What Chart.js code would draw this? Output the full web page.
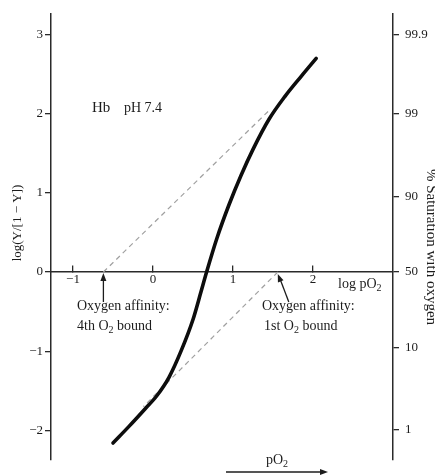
<!DOCTYPE html>
<html>
<head>
<meta charset="utf-8">
<script src="https://cdn.jsdelivr.net/npm/chart.js@4.4.1/dist/chart.umd.min.js"></script>
<style>
  html, body { margin: 0; padding: 0; background: #fff; overflow: hidden; }
  #wrap { position: relative; width: 435px; height: 475px; }
</style>
</head>
<body>
<div id="wrap"><canvas id="hillChart"></canvas></div>
<script>
// Hill plot for hemoglobin, pH 7.4
const logPO2    = [-0.50, -0.30, -0.10, 0.05, 0.20, 0.35, 0.50, 0.60, 0.67, 0.80, 0.95, 1.10, 1.25, 1.45, 1.65, 1.85, 2.04];
const logYratio = [-2.16, -1.95, -1.73, -1.56, -1.33, -1.00, -0.60, -0.25, 0, 0.43, 0.85, 1.22, 1.55, 1.93, 2.22, 2.47, 2.70];

// dashed asymptotes (slope 1)
const upperAsymX = [-0.62, 1.46];
const upperAsymY = [0, 2.05];
const lowerAsymX = [1.56, -0.12];
const lowerAsymY = [0, -1.70];

// where the asymptotes cut log(Y/[1-Y]) = 0
const affinity4th = -0.62;
const affinity1st = 1.56;

const xTicks = [-1, 0, 1, 2];
const yTicks = [-2, -1, 0, 1, 2, 3];
const satPercent = [99.9, 99, 90, 50, 10, 1];
const satLabels = ['99.9', '99', '90', '50', '10', '1'];

const serif = '"Liberation Serif", "Times New Roman", serif';
const ink = '#1c1c1c';
const axisInk = '#2a2a2a';
const dashInk = '#a0a0a0';

const fmt = v => (v < 0 ? '\u2212' + Math.abs(v) : String(v));
const pts = (xs, ys) => xs.map((v, i) => ({ x: v, y: ys[i] }));

// text with subscripts: parts = [[text, isSub], ...]
function richText(ctx, parts, x, y, size) {
  let cx = x;
  parts.forEach(([t, sub]) => {
    const s = sub ? Math.round(size * 0.7) : size;
    ctx.font = s + 'px ' + serif;
    ctx.fillText(t, cx, sub ? y + size * 0.22 : y);
    cx += ctx.measureText(t).width;
  });
}

function arrowHead(ctx, tx, ty, fx, fy, len, half) {
  const a = Math.atan2(ty - fy, tx - fx);
  ctx.beginPath();
  ctx.moveTo(tx, ty);
  ctx.lineTo(tx - len * Math.cos(a) + half * Math.sin(a), ty - len * Math.sin(a) - half * Math.cos(a));
  ctx.lineTo(tx - len * Math.cos(a) - half * Math.sin(a), ty - len * Math.sin(a) + half * Math.cos(a));
  ctx.closePath();
  ctx.fill();
}

const annotate = {
  id: 'annotate',
  afterDraw(chart) {
    const { ctx, scales: { x, y } } = chart;
    ctx.save();
    ctx.fillStyle = ink;
    ctx.strokeStyle = ink;
    ctx.textBaseline = 'alphabetic';
    ctx.textAlign = 'left';

    ctx.font = '15px ' + serif;
    ctx.fillText('Hb', 92, 112);
    ctx.font = '14px ' + serif;
    ctx.fillText('pH 7.4', 124, 112);

    // affinity labels
    ctx.font = '14px ' + serif;
    ctx.fillText('Oxygen affinity:', 77, 310);
    richText(ctx, [['4th O', false], ['2', true], [' bound', false]], 77, 330, 14);
    ctx.font = '14px ' + serif;
    ctx.fillText('Oxygen affinity:', 262, 310);
    richText(ctx, [['1st O', false], ['2', true], [' bound', false]], 264, 330, 14);

    // arrows to the axis
    const y0 = y.getPixelForValue(0);
    const ax4 = x.getPixelForValue(affinity4th);
    const ax1 = x.getPixelForValue(affinity1st);
    ctx.lineWidth = 1.3;
    ctx.beginPath();
    ctx.moveTo(ax4, y0 + 4);
    ctx.lineTo(ax4, y0 + 30);
    ctx.stroke();
    arrowHead(ctx, ax4, y0 + 1, ax4, y0 + 30, 8, 3);
    ctx.beginPath();
    ctx.moveTo(ax1 + 1.5, y0 + 5);
    ctx.lineTo(ax1 + 11, y0 + 30);
    ctx.stroke();
    arrowHead(ctx, ax1, y0 + 2, ax1 + 11, y0 + 30, 8, 3);

    // axis name on the x axis
    richText(ctx, [['log pO', false], ['2', true]], 338, 288, 14);

    // pO2 arrow at the bottom
    richText(ctx, [['pO', false], ['2', true]], 266, 464, 14);
    ctx.lineWidth = 1.3;
    ctx.beginPath();
    ctx.moveTo(226, 472);
    ctx.lineTo(322, 472);
    ctx.stroke();
    arrowHead(ctx, 328, 472, 226, 472, 8, 3);

    // left title
    ctx.save();
    ctx.translate(18, 223);
    ctx.rotate(-Math.PI / 2);
    ctx.textAlign = 'center';
    ctx.textBaseline = 'middle';
    ctx.font = '13px ' + serif;
    ctx.fillText('log(Y/[1 \u2212 Y])', 0, 0);
    ctx.restore();

    // right title, cut by the edge like the scan
    ctx.save();
    ctx.translate(427, 247);
    ctx.rotate(Math.PI / 2);
    ctx.textAlign = 'center';
    ctx.font = '15px ' + serif;
    ctx.fillText('% Saturation with oxygen', 0, 0);
    ctx.restore();

    ctx.restore();
  }
};

const tickFont = { family: serif, size: 13 };

new Chart('hillChart', {
  type: 'line',
  data: {
    datasets: [
      {
        data: pts(logPO2, logYratio),
        borderColor: '#0d0d0d',
        borderWidth: 3.6,
        borderCapStyle: 'round',
        pointRadius: 0,
        cubicInterpolationMode: 'monotone'
      },
      {
        data: pts(upperAsymX, upperAsymY),
        borderColor: dashInk,
        borderWidth: 1.2,
        borderDash: [5, 4],
        pointRadius: 0
      },
      {
        data: pts(lowerAsymX, lowerAsymY),
        borderColor: dashInk,
        borderWidth: 1.2,
        borderDash: [5, 4],
        pointRadius: 0
      }
    ]
  },
  options: {
    responsive: true,
    maintainAspectRatio: false,
    animation: false,
    layout: { padding: { top: 9, bottom: 15, left: 0, right: 0 } },
    plugins: { legend: { display: false }, tooltip: { enabled: false } },
    scales: {
      x: {
        type: 'linear',
        min: -1.275,
        max: 3.0,
        position: { y: 0 },
        afterFit: s => { s.height = 0; },
        afterBuildTicks: s => { s.ticks = xTicks.map(v => ({ value: v })); },
        grid: { drawOnChartArea: false, drawTicks: true, tickLength: -7, color: axisInk, lineWidth: 1.3 },
        border: { color: axisInk, width: 1.5 },
        ticks: { autoSkip: false, maxRotation: 0, padding: 7, color: ink, font: tickFont, callback: v => fmt(v) }
      },
      y: {
        type: 'linear',
        min: -2.375,
        max: 3.2625,
        position: 'left',
        afterFit: s => { s.width = 51; },
        afterBuildTicks: s => { s.ticks = yTicks.map(v => ({ value: v })); },
        grid: { drawOnChartArea: false, drawTicks: true, tickLength: 6, color: axisInk, lineWidth: 1.3 },
        border: { color: axisInk, width: 1.5 },
        ticks: { padding: 2, color: ink, font: tickFont, callback: v => fmt(v) }
      },
      y2: {
        type: 'linear',
        min: -2.375,
        max: 3.2625,
        position: 'right',
        afterFit: s => { s.width = 42; },
        afterBuildTicks: s => { s.ticks = satPercent.map(p => ({ value: Math.log10(p / (100 - p)) })); },
        grid: { drawOnChartArea: false, drawTicks: true, tickLength: 6, color: axisInk, lineWidth: 1.3 },
        border: { color: axisInk, width: 1.5 },
        ticks: { padding: 6, color: ink, font: tickFont, callback: (v, i) => satLabels[i] }
      }
    }
  },
  plugins: [annotate]
});
</script>
</body>
</html>
